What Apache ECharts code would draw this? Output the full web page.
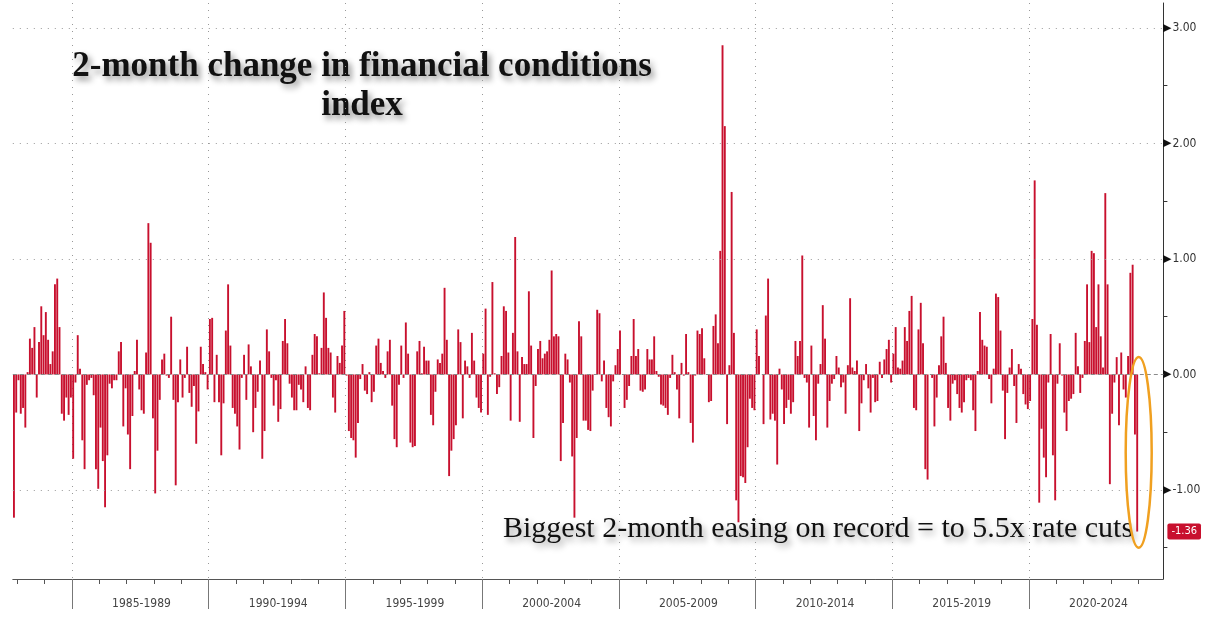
<!DOCTYPE html>
<html>
<head>
<meta charset="utf-8">
<title>2-month change in financial conditions index</title>
<script src="https://cdn.jsdelivr.net/npm/echarts@6/dist/echarts.min.js"></script>
<style>
  html, body { margin: 0; padding: 0; background: #fff; }
  #chart { width: 1206px; height: 618px; }
</style>
</head>
<body>
<div id="chart"></div>
<script>
// monthly series, first bar = Nov 1982
var startYear = 1982, startMonth = 10;   // 0-based month
var monthsOnAxis = 505;                  // axis runs on past the last bar

var v1982_1984 = [-1.24, -0.33, -0.05, -0.34, -0.29, -0.46, 0.02, 0.31, 0.23, 0.41, -0.2, 0.28, 0.59, 0.34,
  0.54, 0.3, 0.09, 0.2, 0.78, 0.83, 0.41, -0.34, -0.4, -0.2, -0.35, -0.2];
var v1985_1989 = [-0.73, -0.07, 0.34, 0.05, -0.57, -0.82, -0.09, -0.05, -0.03, -0.18, -0.82, -0.99, -0.46, -0.75,
  -1.15, -0.7, -0.08, -0.12, -0.05, -0.05, 0.2, 0.28, -0.45, -0.12, -0.52, -0.82, -0.36, 0.03, 0.3, -0.13,
  -0.31, -0.34, 0.19, 1.31, 1.14, -0.38, -1.03, -0.66, -0.22, 0.13, 0.18, -0.01, -0.03, 0.5, -0.22, -0.96,
  -0.24, 0.13, -0.2, -0.03, 0.24, -0.16, -0.28, -0.1, -0.6, -0.32, 0.24, 0.09, 0.02, -0.13];
var v1990_1994 = [0.48, 0.49, -0.24, 0.17, -0.24, -0.7, -0.25, 0.38, 0.78, 0.25, -0.29, -0.34, -0.45, -0.65,
  -0.03, 0.17, -0.22, 0.26, 0.07, -0.5, -0.29, -0.15, 0.12, -0.73, -0.49, 0.39, 0.2, -0.03, -0.27, -0.05,
  -0.41, -0.3, 0.29, 0.48, 0.27, -0.08, -0.2, -0.31, -0.31, -0.09, -0.13, -0.24, 0.07, -0.29, -0.31, 0.17,
  0.35, 0.33, 0.01, 0.23, 0.71, 0.49, 0.23, 0.19, -0.2, -0.33, 0.16, 0.1, 0.25, 0.55];
var v1995_1999 = [-0.01, -0.49, -0.55, -0.57, -0.72, -0.42, -0.04, 0.09, -0.14, -0.17, 0.02, -0.24, -0.15, 0.25,
  0.31, 0.1, 0.03, -0.03, 0.2, 0.3, -0.27, -0.56, -0.63, -0.09, 0.25, -0.03, 0.45, 0.18, -0.59, -0.63,
  -0.62, 0.2, 0.29, 0.01, 0.24, 0.12, 0.12, -0.35, -0.44, -0.15, 0.13, 0.1, 0.18, 0.75, 0.3, -0.88,
  -0.66, -0.56, -0.44, 0.39, 0.28, -0.38, 0.12, 0.07, -0.03, 0.36, 0.12, -0.2, -0.29, -0.33];
var v2000_2004 = [0.18, 0.57, -0.35, -0.02, 0.8, 0.01, -0.17, -0.11, 0.16, 0.59, 0.55, 0.19, -0.4, 0.36,
  1.19, 0.2, -0.41, 0.15, 0.09, 0.09, 0.72, 0.25, -0.55, -0.1, 0.22, 0.29, 0.14, 0.18, 0.2, 0.3,
  0.9, 0.33, 0.35, 0.33, -0.75, -0.42, 0.18, 0.13, -0.07, -0.71, -1.24, -0.55, 0.46, 0.33, -0.4, -0.4,
  -0.48, -0.49, -0.14, 0.0, 0.56, 0.53, -0.06, 0.12, -0.29, -0.37, -0.45, -0.06, 0.08, 0.22];
var v2005_2009 = [0.38, 0.0, -0.29, -0.22, -0.1, 0.16, 0.48, 0.16, 0.22, -0.14, -0.15, -0.13, 0.22, 0.13,
  0.13, 0.33, 0.03, -0.02, -0.26, -0.27, -0.29, -0.35, -0.03, 0.17, 0.02, -0.13, -0.38, 0.1, -0.01, 0.35,
  0.02, -0.42, -0.59, -0.01, 0.38, 0.35, 0.4, 0.14, 0.0, -0.24, -0.23, 0.42, 0.52, 0.27, 1.07, 2.85,
  2.15, -0.43, 0.08, 1.58, 0.36, -1.09, -1.28, -0.88, -0.89, -0.94, -0.63, -0.21, -0.29, -0.31];
var v2010_2014 = [0.39, 0.16, 0.0, -0.43, 0.51, 0.83, -0.39, -0.34, -0.4, -0.78, 0.05, -0.13, -0.43, -0.29,
  -0.22, -0.34, -0.24, 0.29, 0.16, 0.29, 1.03, -0.03, -0.07, -0.46, 0.25, -0.36, -0.57, -0.08, 0.09, 0.6,
  0.31, -0.46, -0.23, -0.08, -0.04, 0.16, 0.06, -0.11, -0.07, -0.34, 0.08, 0.66, 0.06, 0.03, 0.12, -0.49,
  -0.25, -0.05, 0.09, -0.12, -0.33, -0.03, -0.24, -0.23, 0.11, -0.03, 0.13, 0.22, 0.3, -0.07];
var v2015_2019 = [0.18, 0.41, 0.06, 0.05, 0.12, 0.41, 0.29, 0.55, 0.68, -0.29, -0.31, 0.39, 0.62, 0.27,
  -0.82, -0.91, 0.0, -0.03, -0.45, -0.2, 0.08, 0.33, 0.5, 0.1, -0.29, -0.4, -0.08, -0.05, -0.17, -0.29,
  -0.33, -0.24, -0.05, -0.03, -0.05, -0.31, -0.49, 0.03, 0.54, 0.3, 0.25, 0.24, -0.04, -0.25, 0.05, 0.7,
  0.67, 0.38, -0.14, -0.56, -0.16, 0.06, 0.22, -0.1, -0.42, 0.09, 0.05, -0.17, -0.26, -0.3];
var v2020_2023 = [-0.23, 0.48, 1.68, 0.43, -1.11, -0.47, -0.72, -0.89, -0.07, 0.35, -0.7, -1.09, -0.08, 0.27,
  -0.01, -0.33, -0.49, -0.23, -0.21, -0.17, 0.36, 0.07, -0.16, -0.03, 0.29, 0.78, 0.28, 1.07, 1.05, 0.41,
  0.78, 0.33, 0.06, 1.57, 0.78, -0.95, -0.34, -0.07, 0.15, -0.44, 0.19, -0.13, -0.2, 0.16, 0.88, 0.95,
  -0.52, -1.36];

var periodStarts = [1985, 1990, 1995, 2000, 2005, 2010, 2015, 2020];
var periodLabels = ['1985-1989', '1990-1994', '1995-1999', '2000-2004', '2005-2009', '2010-2014', '2015-2019', '2020-2024'];
var yLabelValues = [-1, 0, 1, 2, 3];
var yTickValues = [-1.5, -1, -0.5, 0, 0.5, 1, 1.5, 2, 2.5, 3];
var gridValues = [-1, 1, 2, 3];

var title = '2-month change in financial conditions\nindex';
var note = 'Biggest 2-month easing on record = to 5.5x rate cuts';

var values = [].concat(v1982_1984, v1985_1989, v1990_1994, v1995_1999, v2000_2004,
  v2005_2009, v2010_2014, v2015_2019, v2020_2023);
var lastIndex = values.length - 1;
var lastValue = values[lastIndex];

var categories = [];
for (var i = 0; i < monthsOnAxis; i++) {
  var m = startMonth + i;
  var yr = startYear + Math.floor(m / 12);
  var mo = m % 12 + 1;
  categories.push(yr + '-' + (mo < 10 ? '0' + mo : mo));
}
function yearOf(c) { return +c.slice(0, 4); }
function monthOf(c) { return +c.slice(5, 7); }
function isJan(idx, c) { return monthOf(c) === 1; }
function isPeriodStart(idx, c) { return monthOf(c) === 1 && periodStarts.indexOf(yearOf(c)) >= 0; }
// label sits in the middle of each 5-year block (July of the 3rd year)
function isPeriodMid(idx, c) { return monthOf(c) === 7 && periodStarts.indexOf(yearOf(c) - 2) >= 0; }

var serif = "'Liberation Serif', 'DejaVu Serif', serif";
var sans = "'DejaVu Sans Condensed', 'Liberation Sans', sans-serif";
var red = '#c8102e';

var chart = echarts.init(document.getElementById('chart'), null, { renderer: 'canvas' });

var markData = gridValues.map(function (v) {
  return { yAxis: v, lineStyle: { type: [1, 6], color: '#999', width: 1 } };
});
markData.push({ yAxis: 0, lineStyle: { type: [4, 3], color: '#8a8a8a', width: 1 } });
markData.push({
  yAxis: lastValue,
  lineStyle: { color: 'rgba(0,0,0,0)', width: 0 },
  label: {
    show: true, position: 'end', distance: 4,
    formatter: lastValue.toFixed(2),
    backgroundColor: red, color: '#fff', fontFamily: sans, fontSize: 11,
    padding: [3, 4, 2, 4], borderRadius: 2
  }
});

var option = {
  backgroundColor: '#fff',
  animation: false,
  grid: { left: 12.8, right: 42.6, top: 3, bottom: 39, containLabel: false },
  xAxis: [{
    type: 'category',
    data: categories,
    position: 'bottom',
    boundaryGap: true,
    axisLine: { show: true, onZero: false, lineStyle: { color: '#555', width: 1 } },
    axisTick: { show: true, interval: isJan, length: 5, lineStyle: { color: '#555' } },
    axisLabel: { show: false },
    splitLine: { show: true, interval: isPeriodStart, lineStyle: { type: [1, 6], color: '#999' } }
  }, {
    type: 'category',
    data: categories,
    position: 'bottom',
    boundaryGap: true,
    axisLine: { show: false, onZero: false },
    axisTick: { show: true, interval: isPeriodStart, length: 30, lineStyle: { color: '#777' } },
    axisLabel: {
      show: true, interval: isPeriodMid, margin: 19, color: '#444', fontSize: 12, fontFamily: sans,
      formatter: function (c) { return periodLabels[periodStarts.indexOf(yearOf(c) - 2)]; }
    },
    splitLine: { show: false }
  }],
  yAxis: {
    type: 'value',
    position: 'right',
    min: -1.771,
    max: 3.216,
    axisLine: { show: true, lineStyle: { color: '#333', width: 1 } },
    axisTick: { show: true, customValues: yTickValues, length: 4, lineStyle: { color: '#333' } },
    axisLabel: {
      customValues: yLabelValues, margin: 0,
      formatter: function (v) { return '{t|\u25B6}{v|' + v.toFixed(2) + '}'; },
      rich: {
        t: { color: '#111', fontSize: 11, padding: [0, 1, 0, 0] },
        v: { color: '#333', fontSize: 12, fontFamily: sans }
      }
    },
    splitLine: { show: false }
  },
  series: [{
    type: 'bar',
    xAxisIndex: 0,
    data: values,
    barWidth: 1.9,
    itemStyle: { color: red },
    markLine: { silent: true, symbol: 'none', data: markData, label: { show: false } }
  }],
  graphic: [{
    id: 'title', type: 'text', x: 362, y: 47, silent: true,
    style: {
      text: title, align: 'center', verticalAlign: 'top',
      font: 'bold 35px ' + serif, lineHeight: 39, fill: '#111',
      textShadowColor: 'rgba(0,0,0,0.45)', textShadowBlur: 6, textShadowOffsetX: 3, textShadowOffsetY: 4
    }
  }, {
    id: 'note', type: 'text', x: 503, y: 529, silent: true,
    style: {
      text: note, align: 'left', verticalAlign: 'middle',
      font: '30px ' + serif, fill: '#111',
      textShadowColor: 'rgba(0,0,0,0.4)', textShadowBlur: 6, textShadowOffsetX: 3, textShadowOffsetY: 4
    }
  }]
};

chart.setOption(option);

// orange ring around the last two bars, placed through the chart's own scales
var ringTop = 0.15, ringBottom = -1.5;
var pTop = chart.convertToPixel({ xAxisIndex: 0, yAxisIndex: 0 }, [lastIndex, ringTop]);
var pBot = chart.convertToPixel({ xAxisIndex: 0, yAxisIndex: 0 }, [lastIndex, ringBottom]);
// the category axis always closes with a tick at its far end; mask the long one below the plot
var pEnd = chart.convertToPixel({ xAxisIndex: 0, yAxisIndex: 0 }, [monthsOnAxis - 1, -1.771]);
chart.setOption({
  graphic: [{
    id: 'ring', type: 'ellipse', silent: true, z: 10,
    shape: { cx: pTop[0] + 1.5, cy: (pTop[1] + pBot[1]) / 2, rx: 13, ry: (pBot[1] - pTop[1]) / 2 },
    style: { fill: 'none', stroke: '#f0a020', lineWidth: 2.5 }
  }, {
    id: 'mask', type: 'rect', silent: true, z: 100,
    shape: { x: pEnd[0] - 2, y: pEnd[1] + 1, width: 8, height: 34 },
    style: { fill: '#fff' }
  }]
});
</script>
</body>
</html>
